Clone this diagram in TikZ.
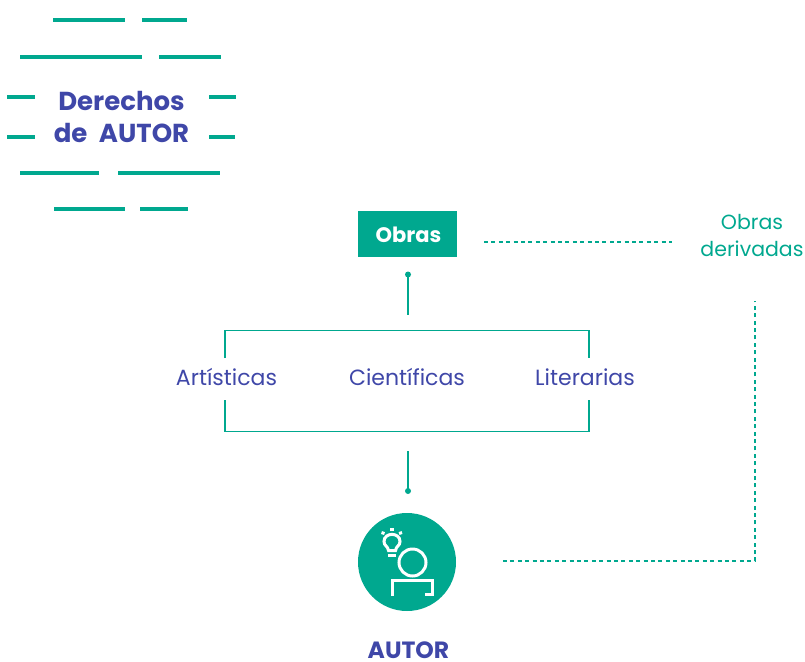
\documentclass[tikz,border=0pt]{standalone}
\usepackage{fontspec}
\setmainfont{Poppins}
\definecolor{teal1}{HTML}{00A88F}
\definecolor{indigo1}{HTML}{3F47A8}
\tikzset{
  x=1pt,y=-1pt,
  bar/.style={draw=teal1,line width=3.2pt},
  conn/.style={draw=teal1,line width=1.1pt},
  dashconn/.style={draw=teal1,line width=1.8pt,dash pattern=on 4pt off 3.4pt},
  title/.style={text=indigo1,font=\fontsize{26}{32}\selectfont\bfseries,align=center,inner sep=0pt},
  cat/.style={text=indigo1,font=\fontsize{22}{25}\selectfont,inner sep=0pt},
  deriv/.style={text=teal1,font=\fontsize{20.5}{27.5}\selectfont,align=center,inner sep=0pt},
  icon/.style={draw=white,line width=3pt},
  ray/.style={draw=white,line width=3pt},
  tip/.style={circle,fill=teal1,inner sep=0pt,minimum size=6pt}
}
\begin{document}
\begin{tikzpicture}
\useasboundingbox (0,0) rectangle (805,661);
% title bars
\foreach \a/\b/\y in {53/125/20,142/187/20,20/142/57,159/221/57,7/35/97,209/236/97,7/35/137,209/235/137,20/99/173,118/220/173,54/125/209,140/188/209}{
  \draw[bar] (\a,\y) -- (\b,\y);
}
\node[title] (titulo) at (121.5,116.5) {Derechos\\de\hspace{6pt} AUTOR};
% Obras
\node[fill=teal1,minimum width=99pt,minimum height=46pt,inner sep=0pt] (obras) at (407.5,234) {};
\node[text=white,font=\fontsize{21}{25}\selectfont\bfseries,inner sep=0pt] (obrastxt) at (408.5,235) {Obras};
\node[deriv] (deriv) at (752,235.5) {Obras\\derivadas};
% connector top
\node[tip] (dotTop) at (408,274.5) {};
\coordinate (topEnd) at (408,315);
\draw[conn] (dotTop.center) -- (topEnd);
% brackets
\node[cat] (art) at (226.5,377) {Artísticas};
\node[cat] (cie) at (407,377) {Científicas};
\node[cat] (lit) at (585,377) {Literarias};
\coordinate (tl) at (225,358);
\coordinate (tr) at (589,358);
\coordinate (bl) at (225,400);
\coordinate (br) at (589,400);
\draw[conn] (tl) -- (225,330.5) -- (589,330.5) -- (tr);
\draw[conn] (bl) -- (225,431.5) -- (589,431.5) -- (br);
% connector bottom
\node[tip] (dotBot) at (408,491) {};
\coordinate (botEnd) at (408,451);
\draw[conn] (dotBot.center) -- (botEnd);
% autor
\node[circle,fill=teal1,minimum size=98pt,inner sep=0pt] (autor) at (407,562) {};
\node[text=indigo1,font=\fontsize{23.5}{25}\selectfont\bfseries,inner sep=0pt,anchor=base] (autorlabel) at (408.5,658) {AUTOR};
% icon
\draw[icon] (412.5,562.5) circle (13.5);
\draw[icon] (392.5,596) -- (392.5,580) -- (432.5,580) -- (432.5,594.5) -- (425,594.5);
\draw[icon] (388.5,550.5) .. controls (388,546) and (384,546) .. (384,541.5) .. controls (384,532) and (400,532) .. (400,541.5) .. controls (400,546) and (396,546) .. (395.5,550.5) -- cycle;
\draw[icon] (388,555.5) -- (396,555.5);
\draw[ray] (390,529) -- (393.5,529);
\draw[ray] (381.5,532.5) -- (384.5,533.5);
\draw[ray] (399,533.5) -- (402,532.5);
% dashed
\coordinate (d1) at (484,242);
\coordinate (d2) at (672,242);
\draw[dashconn] (d1) -- (d2);
\coordinate (d3) at (503,561);
\coordinate (d4) at (755,301);
\draw[dashconn] (d3) -- (755,561) -- (d4);
\end{tikzpicture}
\end{document}
